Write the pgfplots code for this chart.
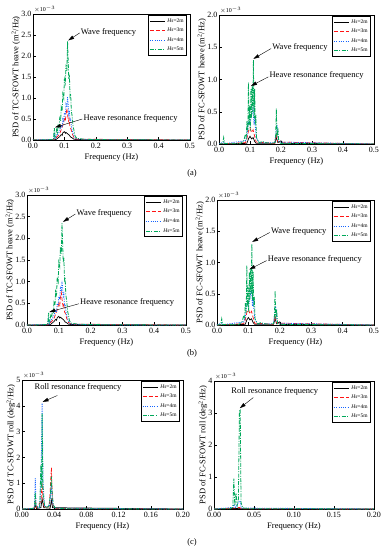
\documentclass[border=0pt]{standalone}
\usepackage{fontspec}
\setmainfont{Liberation Serif}
\usepackage{pgfplots}
\usepackage{pgfplotstable}
\pgfplotsset{compat=1.18}
\usetikzlibrary{arrows.meta}

\definecolor{cgreen}{RGB}{0,168,90}
\definecolor{cblue}{RGB}{20,100,255}
\definecolor{cred}{RGB}{255,20,20}

% ---------- TC-SFOWT heave ----------
\pgfplotstableread{
x y
0 0
0.070 0.005
0.075 0.02
0.080 0.05
0.085 0.08
0.090 0.13
0.093 0.11
0.095 0.17
0.100 0.20
0.103 0.16
0.105 0.18
0.110 0.15
0.115 0.12
0.120 0.07
0.125 0.05
0.130 0.02
0.140 0.01
0.500 0
}\tcHa
\pgfplotstableread{
x y
0 0
0.065 0.005
0.070 0.05
0.075 0.06
0.080 0.10
0.085 0.15
0.090 0.25
0.095 0.35
0.100 0.50
0.103 0.45
0.105 0.62
0.108 0.75
0.110 0.60
0.113 0.45
0.115 0.50
0.118 0.30
0.120 0.28
0.125 0.15
0.130 0.06
0.140 0.02
0.500 0
}\tcHb
\pgfplotstableread{
x y
0 0
0.065 0.01
0.068 0.13
0.070 0.03
0.075 0.10
0.080 0.15
0.085 0.22
0.090 0.35
0.093 0.30
0.095 0.50
0.098 0.45
0.100 0.65
0.103 0.60
0.105 0.85
0.108 0.78
0.110 1.02
0.112 0.85
0.114 0.62
0.116 0.70
0.118 0.45
0.120 0.48
0.123 0.28
0.125 0.22
0.130 0.10
0.135 0.04
0.140 0.02
0.200 0.005
0.500 0
}\tcHc
\pgfplotstableread{
x y
0 0
0.040 0.003
0.060 0.01
0.065 0.03
0.068 0.28
0.070 0.06
0.073 0.12
0.075 0.25
0.078 0.18
0.080 0.35
0.083 0.30
0.085 0.52
0.088 0.45
0.090 0.78
0.093 0.70
0.095 1.10
0.098 1.00
0.100 1.45
0.103 1.35
0.105 1.80
0.108 1.65
0.110 2.35
0.112 1.90
0.114 1.45
0.116 1.55
0.118 1.05
0.120 1.10
0.122 0.70
0.125 0.55
0.128 0.30
0.130 0.25
0.133 0.12
0.135 0.08
0.140 0.04
0.150 0.03
0.160 0.02
0.200 0.01
0.300 0.004
0.500 0
}\tcHd

% ---------- FC-SFOWT heave ----------
\pgfplotstableread{
x y
0 0
0.090 0.01
0.095 0.08
0.100 0.12
0.105 0.08
0.110 0.10
0.115 0.04
0.120 0.01
0.180 0.01
0.185 0.10
0.190 0.02
0.200 0.05
0.205 0.01
0.500 0
}\fcHa
\pgfplotstableread{
x y
0 0
0.085 0.02
0.090 0.08
0.095 0.20
0.100 0.25
0.105 0.18
0.110 0.22
0.115 0.12
0.120 0.03
0.180 0.01
0.185 0.15
0.190 0.03
0.500 0
}\fcHb
\pgfplotstableread{
x y
0 0
0.015 0.03
0.018 0.005
0.085 0.05
0.090 0.12
0.095 0.35
0.100 0.30
0.105 0.45
0.110 0.55
0.113 0.30
0.115 0.40
0.120 0.10
0.130 0.02
0.180 0.02
0.187 0.30
0.192 0.03
0.500 0
}\fcHc
\pgfplotstableread{
x y
0 0
0.012 0.005
0.015 0.10
0.018 0.01
0.050 0.005
0.070 0.01
0.080 0.05
0.085 0.15
0.088 0.10
0.090 0.35
0.093 0.20
0.095 0.95
0.097 0.30
0.099 0.60
0.101 0.20
0.103 0.85
0.105 0.40
0.107 0.90
0.109 0.50
0.111 1.30
0.113 0.40
0.115 0.85
0.117 0.30
0.119 0.45
0.121 0.10
0.125 0.05
0.130 0.02
0.140 0.04
0.150 0.02
0.170 0.01
0.180 0.02
0.183 0.15
0.185 0.55
0.187 0.10
0.190 0.25
0.193 0.02
0.200 0.01
0.500 0
}\fcHd

% ---------- TC-SFOWT roll ----------
\pgfplotstableread{
x y
0 0
0.0155 0.01
0.0165 0.15
0.018 0.02
0.0235 0.05
0.025 0.40
0.027 0.05
0.035 0.03
0.0365 0.35
0.038 0.05
0.200 0
}\tcRa
\pgfplotstableread{
x y
0 0
0.015 0.02
0.0165 0.30
0.018 0.05
0.0235 0.30
0.025 1.00
0.0262 0.30
0.028 0.05
0.034 0.10
0.0365 1.60
0.038 0.20
0.041 0.02
0.200 0
}\tcRb
\pgfplotstableread{
x y
0 0
0.014 0.02
0.0155 0.08
0.0165 1.20
0.0175 0.10
0.022 0.05
0.0235 0.90
0.025 4.10
0.0262 1.00
0.028 0.10
0.034 0.10
0.0365 0.90
0.038 0.20
0.041 0.03
0.200 0
}\tcRc
\pgfplotstableread{
x y
0 0
0.010 0.01
0.014 0.03
0.0155 0.10
0.0165 0.65
0.0175 0.08
0.020 0.05
0.022 0.10
0.0235 1.70
0.0245 0.80
0.025 3.70
0.0258 1.20
0.0265 0.50
0.028 0.15
0.030 0.05
0.033 0.10
0.035 0.45
0.0365 1.25
0.0375 0.60
0.039 0.15
0.041 0.05
0.045 0.03
0.060 0.01
0.200 0
}\tcRd

% ---------- FC-SFOWT roll ----------
\pgfplotstableread{
x y
0 0
0.032 0.02
0.034 0.005
0.200 0
}\fcRa
\pgfplotstableread{
x y
0 0
0.025 0.03
0.032 0.05
0.034 0.01
0.200 0
}\fcRb
\pgfplotstableread{
x y
0 0
0.024 0.05
0.0248 0.15
0.027 0.05
0.0318 0.25
0.0328 0.25
0.034 0.03
0.200 0
}\fcRc
\pgfplotstableread{
x y
0 0
0.020 0.01
0.0235 0.05
0.0248 0.95
0.026 0.10
0.0275 0.50
0.029 0.10
0.0305 0.30
0.0318 3.10
0.0328 3.10
0.0338 0.20
0.036 0.03
0.045 0.01
0.200 0
}\fcRd

\pgfplotsset{
  psd/.style={
    scale only axis,
    tick align=inside,
    xtick pos=bottom,
    ytick pos=left,
    major tick length=3pt,
    tick style={black, line width=0.5pt},
    axis line style={line width=0.6pt},
    ticklabel style={font=\fontsize{8}{9}\selectfont},
    yticklabel style={inner sep=1.5pt},
    label style={font=\fontsize{8.5}{9}\selectfont},
    ylabel shift=-4pt,
    /pgf/number format/assume math mode=true,
    clip mode=individual,
    legend cell align=left,
    legend style={at={(rel axis cs:0.98,0.99)}, anchor=north east,
      font=\fontsize{5.5}{6}\selectfont, inner sep=1pt, row sep=0.5pt,
      draw=black, line width=0.4pt},
    legend image code/.code={\draw[#1, line width=0.9pt] (0pt,0pt) -- (15pt,0pt);},
    xlabel={Frequency (Hz)},
    xlabel style={yshift=2pt},
  },
  s2/.style={black, line width=0.7pt},
  s3/.style={cred, line width=0.7pt, dash pattern=on 4pt off 2pt},
  s4/.style={cblue, line width=0.8pt, dash pattern=on 1pt off 1.3pt},
  s5/.style={cgreen, line width=0.8pt, dash pattern=on 4pt off 1.3pt on 1pt off 1.3pt},
  heave/.style={xmin=0, xmax=0.5, xtick={0,0.1,...,0.5},
    xticklabel style={/pgf/number format/.cd, fixed, fixed zerofill, precision=1}},
}
\newcommand{\expo}{\node[anchor=south west, inner sep=1pt, font=\fontsize{6}{6}\selectfont] at (rel axis cs:0,1) {$\times$10$^{-3}$};}
\newcommand{\fourplots}[4]{%
  \addplot[s2] table {#1};
  \addplot[s3] table {#2};
  \addplot[s4] table {#3};
  \addplot[s5] table {#4};
  \legend{\textit{Hs}=2m,\textit{Hs}=3m,\textit{Hs}=4m,\textit{Hs}=5m}
  \expo
}
\tikzset{ann/.style={font=\fontsize{8.5}{9}\selectfont, inner sep=0.5pt},
  arr/.style={-{Triangle[length=6pt,width=3.5pt]}, line width=0.4pt}}

\begin{document}
\begin{tikzpicture}
\useasboundingbox (0,0) rectangle (384pt,550pt);

% (a) left
\begin{axis}[psd, heave, at={(33pt,410pt)}, anchor=south west, width=157pt, height=126pt,
  ymin=0, ymax=3, ytick={0,0.5,...,3},
  yticklabel style={/pgf/number format/.cd, fixed, fixed zerofill, precision=1},
  ylabel={PSD of TC-SFOWT heave (m\textsuperscript{2}/Hz)}]
\fourplots{\tcHa}{\tcHb}{\tcHc}{\tcHd}
\node[ann, anchor=west] at (axis cs:0.150,2.57) {Wave frequency};
\draw[arr] (axis cs:0.149,2.55) -- (axis cs:0.112,2.37);
\node[ann, anchor=west] at (axis cs:0.159,0.52) {Heave resonance frequency};
\draw[arr] (axis cs:0.157,0.5) -- (axis cs:0.070,0.30);
\end{axis}

% (a) right
\begin{axis}[psd, heave, at={(219pt,406pt)}, anchor=south west, width=155pt, height=129pt,
  ymin=0, ymax=2, ytick={0,0.5,...,2},
  yticklabel style={/pgf/number format/.cd, fixed, fixed zerofill, precision=1},
  ylabel={PSD of FC-SFOWT heave (m\textsuperscript{2}/Hz)}]
\fourplots{\fcHa}{\fcHb}{\fcHc}{\fcHd}
\node[ann, anchor=west] at (axis cs:0.170,1.50) {Wave frequency};
\draw[arr] (axis cs:0.168,1.48) -- (axis cs:0.111,1.32);
\node[ann, anchor=west] at (axis cs:0.161,1.06) {Heave resonance frequency};
\draw[arr] (axis cs:0.159,1.04) -- (axis cs:0.103,0.90);
\end{axis}
\node[font=\fontsize{8.5}{9}\selectfont] at (192pt,377pt) {(a)};

% (b) left
\begin{axis}[psd, heave, at={(27pt,225pt)}, anchor=south west, width=159pt, height=130pt,
  ymin=0, ymax=3, ytick={0,0.5,...,3},
  yticklabel style={/pgf/number format/.cd, fixed, fixed zerofill, precision=1},
  ylabel={PSD of TC-SFOWT heave (m\textsuperscript{2}/Hz)}]
\fourplots{\tcHa}{\tcHb}{\tcHc}{\tcHd}
\node[ann, anchor=west] at (axis cs:0.154,2.58) {Wave frequency};
\draw[arr] (axis cs:0.152,2.56) -- (axis cs:0.113,2.38);
\node[ann, anchor=west] at (axis cs:0.165,0.51) {Heave resonance frequency};
\draw[arr] (axis cs:0.163,0.49) -- (axis cs:0.070,0.30);
\end{axis}

% (b) right
\begin{axis}[psd, heave, at={(217pt,225pt)}, anchor=south west, width=157pt, height=125pt,
  ymin=0, ymax=2, ytick={0,0.5,...,2},
  yticklabel style={/pgf/number format/.cd, fixed, fixed zerofill, precision=1},
  ylabel={PSD of FC-SFOWT heave (m\textsuperscript{2}/Hz)}]
\fourplots{\fcHa}{\fcHb}{\fcHc}{\fcHd}
\node[ann, anchor=west] at (axis cs:0.170,1.50) {Wave frequency};
\draw[arr] (axis cs:0.168,1.48) -- (axis cs:0.112,1.33);
\node[ann, anchor=west] at (axis cs:0.160,1.05) {Heave resonance frequency};
\draw[arr] (axis cs:0.158,1.03) -- (axis cs:0.103,0.89);
\end{axis}
\node[font=\fontsize{8.5}{9}\selectfont] at (192pt,197pt) {(b)};

% (c) left
\begin{axis}[psd, at={(22pt,41pt)}, anchor=south west, width=161pt, height=129pt,
  xmin=0, xmax=0.2, xtick={0,0.04,...,0.2},
  xticklabel style={/pgf/number format/.cd, fixed, fixed zerofill, precision=2},
  ymin=0, ymax=5, ytick={0,1,...,5},
  ylabel={PSD of TC-SFOWT roll (deg\textsuperscript{2}/Hz)}]
\fourplots{\tcRa}{\tcRb}{\tcRc}{\tcRd}
\node[ann] at (axis cs:0.0696,4.72) {Roll resonance frequency};
\draw[arr] (axis cs:0.044,4.40) -- (axis cs:0.0255,4.15);
\end{axis}

% (c) right
\begin{axis}[psd, at={(214pt,41pt)}, anchor=south west, width=160pt, height=128pt,
  xmin=0, xmax=0.2, xtick={0,0.05,...,0.2},
  xticklabel style={/pgf/number format/.cd, fixed, fixed zerofill, precision=2},
  ymin=0, ymax=4, ytick={0,1,...,4},
  ylabel={PSD of FC-SFOWT roll (deg\textsuperscript{2}/Hz)}]
\fourplots{\fcRa}{\fcRb}{\fcRc}{\fcRd}
\node[ann] at (axis cs:0.076,3.66) {Roll resonance frequency};
\draw[arr] (axis cs:0.049,3.48) -- (axis cs:0.0322,3.15);
\end{axis}
\node[font=\fontsize{8.5}{9}\selectfont] at (192pt,8pt) {(c)};
\end{tikzpicture}
\end{document}
